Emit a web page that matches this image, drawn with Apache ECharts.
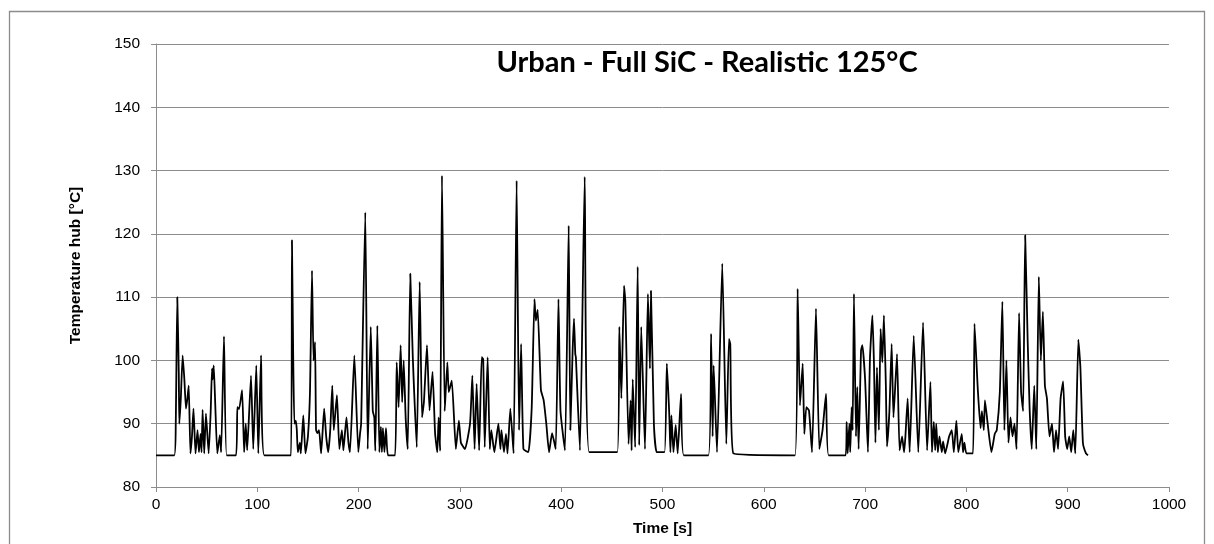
<!DOCTYPE html>
<html>
<head>
<meta charset="utf-8">
<script src="https://cdn.jsdelivr.net/npm/echarts@6/dist/echarts.min.js"></script>
<style>
html,body{margin:0;padding:0;background:#fff;}
#c{width:1214px;height:544px;}
</style>
</head>
<body>
<div id="c"></div>
<script>
const titleText = 'Urban - Full SiC - Realistic 125°C';
const xAxisName = 'Time [s]';
const yAxisName = 'Temperature hub [°C]';
const xTicks = [0,100,200,300,400,500,600,700,800,900,1000];
const yTicks = [80,90,100,110,120,130,140,150];

const timeS = [
0,18,19.5,21,22.5,23,24.5,26.3,28,29.6,31,32.3,34,35.5,37,39,41,42.4,44,45,46,47.6,49.3,52,54,55.3,56,57,58.5,60.5,63,64.3,67.1,69.8,
79,80.3,82,85,87,88.6,90,93.8,96,99,101,103.7,107,
133.3,134.2,135.5,136.6,138,139,140,142,143,145.4,147.5,150,152,154,155.5,157,158,159.5,161,163,166,168,170,172,174,175.5,178.6,181,183.5,185,188,190,191.5,195.8,199.7,
201.4,202.5,206.6,209,212,214,215.5,216.5,218.5,220.5,222,223,224,225.5,227,229,
236,237.6,239.5,241.5,243,244.5,246.5,248.5,251,253.5,257.4,260.3,262.6,264.5,267.5,270,273,275.5,277.7,279,280.5,282.3,285,287.6,289,292,296,299,301,305,
310,312.3,314.5,316.5,319,321.5,323,324.5,327.4,329.5,331,334,338,340,341,343.5,345.5,347,349.8,353,356,358.4,360.4,362.7,367.6,370.9,373.6,375,376.8,380,382.7,385.3,388,391,394.6,397.3,399.3,403.7,407.4,409,411.3,412.6,413.9,414.5,418.5,423.2,427.7,
455.4,457.4,459.4,462,463.3,466.5,468.5,469.5,470.6,473,475.5,477,479,482.7,485.6,487.6,488.6,491.5,494.3,
502,504.3,506.8,507.8,508.8,510.8,513,515,518.3,521,
545.3,548,549.5,550.5,553.8,559,563,565.6,566.9,570,
630.8,633.4,635.7,638.4,640,642,644.6,647.6,651.5,654.8,658,661.4,664,
680.8,681.8,682.8,684.5,685.3,686.7,687.7,689,691,692.3,693.6,696,697.3,700,702.8,704.8,707.2,708.8,710.2,711.7,713.6,715.3,717,718.6,720.5,721.6,
724,726.2,728,731.5,734,736.5,738.5,739.8,742,744,748,752.5,757.2,761.2,764.5,766,767.8,769.2,770.2,771.8,773.4,775.7,777,779,783,785.6,787.6,790.1,792,795.4,796.7,798,800,
806.5,808,811.3,814,815.3,817.2,818.3,821,824.7,828,
830,833,835.5,837.5,839.5,841.5,843.5,845.5,847.5,849.5,852,854,856,858,860.5,862.5,864.5,867,869,871.5,873.5,875.5,877.5,879.5,882,884.5,886.5,888.5,890.5,893,895.5,897.5,899.5,901.5,903.5,905.5,907.5,910.5,912.5,915,918,920
];
const tempC = [
85,85,90,110,98,90,94,100.8,97,92.4,94,96,85.3,88,92.4,85.3,89,85.5,88.4,85.5,92.2,85.3,91.6,85.3,92,98.7,97,99.2,93,85.3,88.2,85.5,103.8,85,
85,92.6,92.3,95.3,85.5,90,85.8,97.6,86,99.2,85.3,100.8,85,
85,119,100,90,90.5,89,85.5,87,85.3,91.3,85.3,88,95,114.2,100,102.9,89,88.5,89,85.3,92.4,88,85.5,89,96,89,94.5,86,89,85.8,91,87,85.5,100.8,85.5,
88.4,90,123.4,86,105.3,92,91,85.7,105.5,85.5,89.5,85.5,89.3,85.5,89.3,85,
85,99.7,92.6,102.4,93.4,100,90.8,86,113.7,100.5,86.3,112.4,91,93.5,102.4,92.1,98.2,88.5,85.5,91,85.7,129.2,92,99.7,95,96.8,86,90.5,87,86,
90,97.6,86,96.3,85.8,100.5,100.2,86.3,100.5,86,89,85.5,90,86,89,85.5,88.4,85.3,92.4,85.3,128.4,89,102.6,86,85.5,92.6,109.7,106.3,108,95.3,93.7,90,85.5,88.5,86,109.7,92,85.8,121.3,89,101.6,106.6,101,100.5,85.8,129,85.5,
85.5,105.3,94,111.8,109.4,86.8,93.7,85.8,97,86.3,114.8,86.6,105.3,86,110.5,98.7,111,90,85.5,
85.5,99.5,91,85.5,91.3,85.5,89.8,85.3,94.7,85,
85,104.2,88,99.2,85.5,115.3,86.8,103.4,102.6,85.3,
85,111.3,92.9,99.5,88.4,92.6,92.1,85.5,108.2,86,89,94.7,85,
85,90.3,85.3,90,85.5,92.6,89,110.5,88,95.8,86,101.6,102.4,97,85.5,100.3,107.1,99.2,87,98.9,89,105,99.7,107.1,96,86.4,
92,102.6,91,101,85.8,88,85.5,88,94,85.5,103.9,85.5,106,85.8,96.6,85.5,90.3,85.8,90,85.5,88,85.5,87.2,85.3,88,89,85.5,90.5,85.5,88.4,85.5,87,85.3,
85.3,105.8,95.3,89.3,92,89,93.7,90,85.5,88.4,
89,95,109.3,89,100,87,91,88,90,86,107.5,95,92,119.8,103,92,86,96,86,113.2,100,107.7,96,94,88,90,85.5,89,86,94,96.7,88,86,88,85.5,89,85.3,103.3,99,87,85.3,85
];

const seriesData = timeS.map((t, i) => [t, tempC[i]]);

const chart = echarts.init(document.getElementById('c'), null, {renderer: 'canvas'});
const axisGray = '#8c8c8c';
const labelFont = {fontFamily: 'Liberation Sans, Arial, sans-serif', fontSize: 15.5, color: '#000'};
const nameFont = {fontFamily: 'Liberation Sans, Arial, sans-serif', fontSize: 15.5, fontWeight: 'bold', color: '#000'};

chart.setOption({
  animation: false,
  backgroundColor: '#fff',
  grid: {left: 156, right: 45, top: 44, bottom: 57, containLabel: false},
  graphic: [
    {type: 'rect', shape: {x: 9.5, y: 11.5, width: 1195, height: 560}, style: {fill: 'none', stroke: axisGray, lineWidth: 1.3}, z: -1},
    {type: 'text', x: 707, y: 63, style: {text: titleText, font: 'bold 29px Lato, sans-serif', fill: '#000', textAlign: 'center', textVerticalAlign: 'middle'}}
  ],
  xAxis: {
    type: 'value', min: xTicks[0], max: xTicks[xTicks.length-1], interval: 100,
    name: xAxisName, nameLocation: 'middle', nameGap: 34,
    nameTextStyle: nameFont,
    axisLine: {show: true, onZero: false, lineStyle: {color: axisGray, width: 1}},
    axisTick: {show: true, inside: false, length: 5, lineStyle: {color: axisGray}},
    axisLabel: Object.assign({margin: 10, formatter: v => xTicks.includes(v) ? String(v) : ''}, labelFont),
    splitLine: {show: false}
  },
  yAxis: {
    type: 'value', min: yTicks[0], max: yTicks[yTicks.length-1], interval: 10,
    name: yAxisName, nameLocation: 'middle', nameGap: 72, nameRotate: 90,
    nameTextStyle: nameFont,
    axisLine: {show: true, lineStyle: {color: axisGray, width: 1}},
    axisTick: {show: true, inside: false, length: 5, lineStyle: {color: axisGray}},
    axisLabel: Object.assign({margin: 16, formatter: v => yTicks.includes(v) ? String(v) : ''}, labelFont),
    splitLine: {show: true, lineStyle: {color: axisGray, width: 1}}
  },
  series: [{
    type: 'line',
    data: seriesData,
    showSymbol: false,
    smooth: 0.15,
    lineStyle: {color: '#000', width: 1.8},
    clip: true
  }]
});
</script>
</body>
</html>
